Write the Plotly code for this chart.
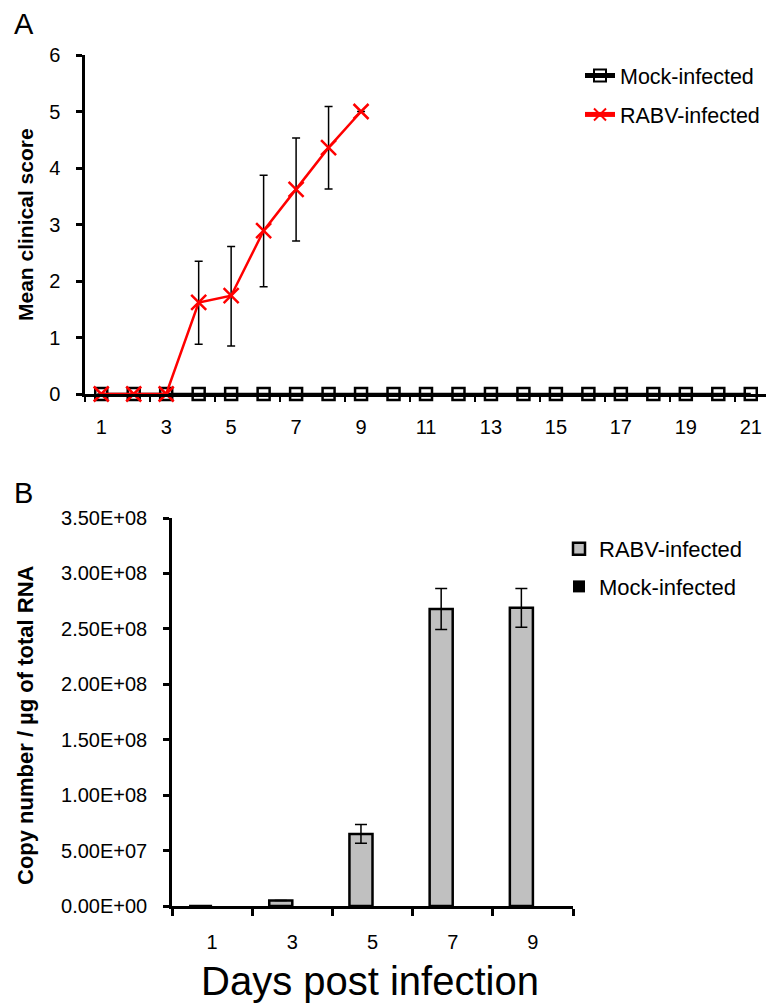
import plotly.graph_objects as go

# ---------------- Panel A data ----------------
days_a = list(range(1, 22))
mock_score = [0] * 21
rabv_days = [1, 2, 3, 4, 5, 6, 7, 8, 9]
rabv_score = [0, 0, 0, 1.62, 1.74, 2.89, 3.62, 4.36, 5.0]
rabv_err_plus = [0, 0, 0, 0.73, 0.87, 0.98, 0.91, 0.73, 0]
rabv_err_minus = [0, 0, 0, 0.74, 0.89, 0.99, 0.91, 0.73, 0]
a_tick_labels = [str(d) for d in range(1, 22, 2)]

# ---------------- Panel B data ----------------
days_b = ["1", "3", "5", "7", "9"]
rabv_copies = [0, 5.0e6, 6.5e7, 2.68e8, 2.69e8]
rabv_copies_err = [0, 0, 8.5e6, 1.85e7, 1.75e7]
mock_copies = [0, 0, 0, 0, 0]
b_tick_vals = [0, 5e7, 1e8, 1.5e8, 2e8, 2.5e8, 3e8, 3.5e8]
b_tick_text = ["0.00E+00", "5.00E+07", "1.00E+08", "1.50E+08",
               "2.00E+08", "2.50E+08", "3.00E+08", "3.50E+08"]

FONT = "Arial, 'Liberation Sans', sans-serif"
OFF = 8  # default page body margin
W, H = 774 - OFF, 1003 - OFF

def px(x):
    return (x - OFF) / W

def py(y):
    return 1 - (y - OFF) / H

fig = go.Figure()

fig.add_trace(go.Scatter(
    x=days_a, y=mock_score, mode="lines+markers", name="Mock-infected",
    line=dict(color="black", width=2.5),
    marker=dict(symbol="square-open", size=12, color="black",
                line=dict(color="black", width=2.5)),
    cliponaxis=False, xaxis="x", yaxis="y",
    legend="legend", legendgroup="a1",
))
fig.add_trace(go.Scatter(
    x=rabv_days, y=rabv_score, mode="lines+markers", name="RABV-infected",
    line=dict(color="#ff0000", width=2.5),
    marker=dict(symbol="x-thin", size=15, color="#ff0000",
                line=dict(color="#ff0000", width=2.5)),
    error_y=dict(type="data", array=rabv_err_plus, arrayminus=rabv_err_minus,
                 color="black", thickness=1.5, width=4),
    cliponaxis=False, xaxis="x", yaxis="y",
    legend="legend", legendgroup="a2",
))

fig.add_trace(go.Bar(
    x=days_b, y=rabv_copies, name="RABV-infected",
    marker=dict(color="#c0c0c0", line=dict(color="black", width=2.5)),
    error_y=dict(type="data", array=rabv_copies_err, color="black",
                 thickness=1.5, width=6),
    xaxis="x2", yaxis="y2", legend="legend2", legendgroup="b1",
))
fig.add_trace(go.Bar(
    x=days_b, y=mock_copies, name="Mock-infected",
    marker=dict(color="black", line=dict(color="black", width=0)),
    xaxis="x2", yaxis="y2", legend="legend2", legendgroup="b2",
))

axis_common = dict(showline=True, linecolor="black", linewidth=2.5,
                   showgrid=False, zeroline=False,
                   tickfont=dict(family=FONT, size=20, color="black"))

fig.update_layout(
    width=W, height=H,
    margin=dict(l=0, r=0, t=0, b=0, autoexpand=False),
    paper_bgcolor="white", plot_bgcolor="white",
    font=dict(family=FONT, color="black"),
    barmode="group", bargap=0.425, bargroupgap=0,
    xaxis=dict(domain=[px(85), px(767)], anchor="y",
               range=[0.5, 21.5], tickmode="array",
               tickvals=list(range(1, 22, 2)), ticktext=a_tick_labels,
               ticks="", ticklabelstandoff=13,
               minor=dict(tickmode="array",
                          tickvals=[0.5 + 2 * k for k in range(11)],
                          ticks="outside", ticklen=5, tickwidth=2,
                          tickcolor="black"),
               **axis_common),
    yaxis=dict(domain=[py(394), py(55)], anchor="x",
               range=[0, 6], tickmode="linear", tick0=0, dtick=1,
               ticks="outside", ticklen=6, tickwidth=2.5, tickcolor="black",
               ticklabelstandoff=12,
               **axis_common),
    xaxis2=dict(domain=[px(172), px(573)], anchor="y2",
                type="category", range=[-0.5, 4.5],
                tickson="boundaries", ticks="outside", ticklen=7,
                tickwidth=2.5, tickcolor="black", ticklabelstandoff=16,
                **axis_common),
    yaxis2=dict(domain=[py(906), py(518)], anchor="x2",
                range=[0, 3.5e8], tickmode="array",
                tickvals=b_tick_vals, ticktext=b_tick_text,
                ticks="outside", ticklen=6, tickwidth=2.5, tickcolor="black",
                ticklabelstandoff=12,
                **axis_common),
    legend=dict(x=px(580), xanchor="left", y=py(55), yanchor="top",
                bgcolor="rgba(0,0,0,0)", tracegroupgap=8,
                font=dict(family=FONT, size=21.5, color="black"),
                itemsizing="constant"),
    legend2=dict(x=px(559), xanchor="left", y=py(528), yanchor="top",
                 bgcolor="rgba(0,0,0,0)", tracegroupgap=6,
                 font=dict(family=FONT, size=22, color="black")),
    annotations=[
        dict(text="A", x=px(12), y=py(24), xref="paper", yref="paper",
             xanchor="left", yanchor="middle", showarrow=False,
             font=dict(family=FONT, size=29, color="black")),
        dict(text="B", x=px(12), y=py(493), xref="paper", yref="paper",
             xanchor="left", yanchor="middle", showarrow=False,
             font=dict(family=FONT, size=29, color="black")),
        dict(text="<b>Mean clinical score</b>", x=px(25), y=py(225),
             xref="paper", yref="paper", textangle=-90,
             xanchor="center", yanchor="middle", showarrow=False,
             font=dict(family=FONT, size=21, color="black")),
        dict(text="<b>Copy number / µg of total RNA</b>", x=px(25), y=py(725),
             xref="paper", yref="paper", textangle=-90,
             xanchor="center", yanchor="middle", showarrow=False,
             font=dict(family=FONT, size=22, color="black")),
        dict(text="Days post infection", x=px(370), y=py(981),
             xref="paper", yref="paper",
             xanchor="center", yanchor="middle", showarrow=False,
             font=dict(family=FONT, size=40, color="black")),
    ],
)

fig.write_html("out.html")
